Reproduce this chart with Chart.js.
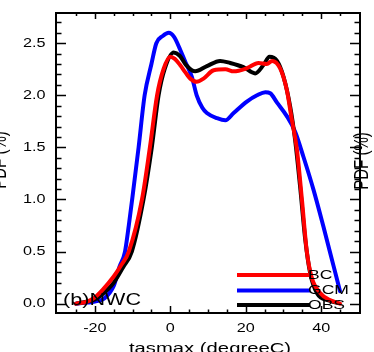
<!DOCTYPE html>
<html>
<head>
<meta charset="utf-8">
<script src="https://cdn.jsdelivr.net/npm/chart.js@4/dist/chart.umd.min.js"></script>
<style>
html,body{margin:0;padding:0;background:#fff;}
canvas{display:block;}
</style>
</head>
<body>
<canvas id="c" width="374" height="352"></canvas>
<script>
// ---- data ----
const seriesNames = ["BC", "GCM", "OBS"];
const seriesColors = ["#ff0000", "#0000ff", "#000000"];

const bcX  = [-25,-22,-20,-18,-15,-13,-11,-7.5,-5.4,-3.5,-1.8,0,1.2,2.6,4,5.3,7,8.8,11.5,14.6,16.8,20.3,23.4,25.6,27,29.1,30.9,32.2,33.5,34.9,36.2,37.5,39.8,42,45];
const bcY  = [0,0.02,0.06,0.13,0.26,0.37,0.5,1.0,1.5,2.0,2.25,2.37,2.35,2.29,2.22,2.16,2.13,2.16,2.24,2.25,2.23,2.26,2.31,2.30,2.33,2.26,2.05,1.77,1.5,1.0,0.5,0.25,0.1,0.04,0.0];

const gcmX = [-25,-22,-20,-17.5,-15,-13.5,-12,-11,-10,-8.4,-6.8,-5,-3.7,-2,-0.4,1,2.6,4,5.7,7,8.5,9.7,12.4,14.6,16.8,20.3,23,25.2,26.5,28.3,30.9,33.1,35.3,38,40.6,43.3,45];
const gcmY = [0,0.01,0.02,0.05,0.17,0.35,0.5,0.75,1.03,1.5,2.0,2.3,2.5,2.57,2.6,2.56,2.44,2.32,2.18,2.0,1.88,1.83,1.78,1.76,1.83,1.94,2.0,2.03,2.02,1.93,1.80,1.65,1.41,1.09,0.74,0.36,0.12];

const obsX = [-25,-22,-20,-18,-15,-12.5,-10.2,-7.1,-4.9,-3.1,-1.5,0.9,2.5,4.2,6.6,9.7,13.2,15.9,19.4,22.5,24.7,26.3,28.3,30,31.8,33.1,34.4,35.8,37.1,38.9,42,44];
const obsY = [0,0.02,0.04,0.09,0.2,0.35,0.5,1.0,1.5,2.0,2.25,2.41,2.38,2.29,2.23,2.28,2.33,2.31,2.27,2.21,2.29,2.37,2.33,2.18,1.89,1.57,1.13,0.61,0.29,0.10,0.03,0.01];

const xTickLabels = [-20, 0, 20, 40];
const yTickLabels = ["0.0", "0.5", "1.0", "1.5", "2.0", "2.5"];
const xMinorStep = 5;
const yMinorStep = 0.1;
const panelLabel = "(b)NWC";
const xTitle = "tasmax (degreeC)";
const yTitle = "PDF (%)";

// ---- helpers ----
const SX = 1.35; // horizontal stretch of the reference text
const FONT = "'Liberation Sans', Arial, Helvetica, sans-serif";
function stext(ctx, str, x, y, size, align, baseline, rot) {
  ctx.save();
  ctx.translate(x, y);
  ctx.scale(SX, 1);
  if (rot) ctx.rotate(rot);
  ctx.font = size + "px " + FONT;
  ctx.fillStyle = "#000";
  ctx.textAlign = align;
  ctx.textBaseline = baseline;
  ctx.fillText(str, 0, 0);
  ctx.restore();
}
function pts(xs, ys) { return xs.map((x, i) => ({x: x, y: ys[i]})); }

const frame = {
  id: "frame",
  afterDraw(chart) {
    const ctx = chart.ctx;
    const a = chart.chartArea;
    const xs = chart.scales.x, ys = chart.scales.y;
    ctx.save();
    ctx.strokeStyle = "#000";
    // minor/major ticks
    ctx.lineWidth = 1.5;
    ctx.beginPath();
    for (let v = -25; v <= 45.001; v += xMinorStep) {
      const px = Math.round(xs.getPixelForValue(v)) + 0.5;
      const major = Math.abs(v % 20) < 1e-6;
      const lb = major ? 7 : 3.5, lt = major ? 6 : 3;
      ctx.moveTo(px, a.bottom); ctx.lineTo(px, a.bottom - lb);
      ctx.moveTo(px, a.top); ctx.lineTo(px, a.top + lt);
    }
    for (let k = 0; k <= 27; k++) {
      const v = k * yMinorStep;
      const py = Math.round(ys.getPixelForValue(v)) + 0.5;
      const major = k % 5 === 0;
      const l = major ? 10 : 5.5;
      ctx.moveTo(a.left, py); ctx.lineTo(a.left + l, py);
      ctx.moveTo(a.right, py); ctx.lineTo(a.right - l, py);
    }
    ctx.stroke();
    // frame
    ctx.lineWidth = 2;
    ctx.strokeRect(a.left, a.top, a.right - a.left, a.bottom - a.top);
    ctx.restore();

    // tick labels
    xTickLabels.forEach(v => stext(ctx, String(v), xs.getPixelForValue(v), 329, 12, "center", "middle"));
    yTickLabels.forEach(s => stext(ctx, s, 45.5, ys.getPixelForValue(parseFloat(s)), 12, "right", "middle"));

    // titles
    stext(ctx, xTitle, 210, 352.5, 15, "center", "alphabetic");
    stext(ctx, yTitle, 0, 160, 15, "center", "middle", -Math.PI / 2);
    stext(ctx, yTitle, 362, 161, 15, "center", "middle", -Math.PI / 2);

    // legend
    const ly = [275, 290.5, 305];
    ctx.save();
    ctx.lineWidth = 4;
    seriesNames.forEach((n, i) => {
      ctx.strokeStyle = seriesColors[i];
      ctx.beginPath();
      ctx.moveTo(237, ly[i]); ctx.lineTo(310, ly[i]);
      ctx.stroke();
    });
    ctx.restore();
    seriesNames.forEach((n, i) => stext(ctx, n, 308, ly[i], 13, "left", "middle"));

    // panel label
    stext(ctx, panelLabel, 63, 301, 16, "left", "middle");
  }
};

const ds = (label, xs, ys, color) => ({
  label: label,
  data: pts(xs, ys),
  borderColor: color,
  backgroundColor: color,
  borderWidth: 4,
  pointRadius: 0,
  fill: false,
  cubicInterpolationMode: "monotone",
  borderCapStyle: "round",
  borderJoinStyle: "round"
});

new Chart(document.getElementById("c"), {
  type: "line",
  data: {
    datasets: [
      ds(seriesNames[0], bcX, bcY, seriesColors[0]),
      ds(seriesNames[2], obsX, obsY, seriesColors[2]),
      ds(seriesNames[1], gcmX, gcmY, seriesColors[1])
    ]
  },
  options: {
    responsive: false,
    animation: false,
    devicePixelRatio: 1,
    layout: { padding: { left: 56, right: 14, top: 13, bottom: 39 } },
    plugins: { legend: { display: false }, tooltip: { enabled: false } },
    scales: {
      x: {
        type: "linear", min: -30.3, max: 50.3,
        ticks: { display: false }, grid: { display: false }, border: { display: false },
        afterFit(s) { s.height = 0; }
      },
      y: {
        type: "linear", min: -0.09, max: 2.79,
        ticks: { display: false }, grid: { display: false }, border: { display: false },
        afterFit(s) { s.width = 0; }
      }
    }
  },
  plugins: [frame]
});
</script>
</body>
</html>
